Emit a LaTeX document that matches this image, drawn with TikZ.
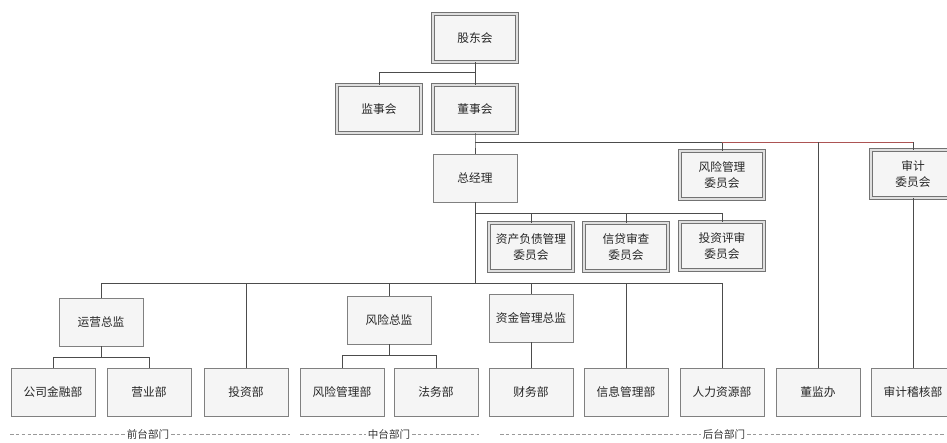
\documentclass[tikz,border=0pt]{standalone}
\usepackage{fontspec}
\setmainfont{Noto Sans CJK SC}
\begin{document}
\begin{tikzpicture}[x=0.3mm, y=-0.3mm,
		box/.style={rectangle, draw=black!50, fill=gray!8, line width=0.6pt, minimum width=25.2mm, minimum height=14.4mm, inner sep=1pt, align=center, text=black!85, font=\fontsize{10}{13}\selectfont},
		dbox/.style={box, draw=black!55, double=gray!25, double distance=1.4pt, line width=0.6pt},
		conn/.style={draw=black!70, line width=0.3mm},
		redconn/.style={draw=red!35!gray, line width=0.3mm},
		sep/.style={draw=gray!80, densely dashed, line width=0.2mm},
		part/.style={text=black!80, font=\fontsize{9}{9}\selectfont, inner sep=1.5pt}]
		\useasboundingbox (0,0) rectangle (947,443);

		% top
		\draw (475,38) node (gdh) [dbox] {股东会};
		\draw (379,109) node (jsh) [dbox] {监事会};
		\draw (475,109) node (dsh) [dbox] {董事会};

		\draw (475,178) node (zjl) [box] {总经理};
		\draw (722,175) node (fxwyh) [dbox] {风险管理\\委员会};
		\draw (913,174) node (sjwyh) [dbox] {审计\\委员会};

		% committees
		\draw (531,247) node (zcfz) [dbox] {资产负债管理\\委员会};
		\draw (626,247) node (xdsc) [dbox] {信贷审查\\委员会};
		\draw (722,246) node (tzps) [dbox] {投资评审\\委员会};

		% directors
		\draw (101,322) node (yyzj) [box] {运营总监};
		\draw (389,320) node (fxzj) [box] {风险总监};
		\draw (531,318) node (zjglzj) [box] {资金管理总监};

		% departments
		\draw (53,392) node (gsjr) [box] {公司金融部};
		\draw (149,392) node (yyb) [box] {营业部};
		\draw (246,392) node (tzb) [box] {投资部};
		\draw (342,392) node (fxglb) [box] {风险管理部};
		\draw (436,392) node (fwb) [box] {法务部};
		\draw (531,392) node (cwb) [box] {财务部};
		\draw (626,392) node (xxglb) [box] {信息管理部};
		\draw (722,392) node (rlzyb) [box] {人力资源部};
		\draw (818,392) node (djb) [box] {董监办};
		\draw (913,392) node (sjjhb) [box] {审计稽核部};

		% connectors
		\draw[conn] (gdh.south) -- ++(0,10) coordinate (k1) -| (jsh.north);
		\draw[conn] (k1) -- (dsh.north);

		\draw[conn] (dsh.south) -- ++(0,9) coordinate (k2) -- (zjl.north);
		\draw[conn] (k2) -| (fxwyh.north);
		\draw[redconn] (k2 -| fxwyh.north) -- (k2 -| sjwyh.north);
		\draw[conn] (k2 -| djb.north) -- (djb.north);
		\draw[conn] (k2 -| sjwyh.north) -- (sjwyh.north);
		\draw[conn] (sjwyh.south) -- (sjjhb.north);

		\draw[conn] (zjl.south) -- ++(0,11) coordinate (k3) -| (tzps.north);
		\draw[conn] (k3 -| zcfz.north) -- (zcfz.north);
		\draw[conn] (k3 -| xdsc.north) -- (xdsc.north);

		\draw[conn] (k3) -- ++(0,70) coordinate (k4) -| (rlzyb.north);
		\draw[conn] (k4) -| (yyzj.north);
		\foreach \n in {tzb, fxzj, zjglzj, xxglb}
			\draw[conn] (k4 -| \n.north) -- (\n.north);

		\draw[conn] (yyzj.south) -- ++(0,11) coordinate (k5) -| (gsjr.north);
		\draw[conn] (k5) -| (yyb.north);
		\draw[conn] (fxzj.south) -- ++(0,11) coordinate (k6) -| (fxglb.north);
		\draw[conn] (k6) -| (fwb.north);
		\draw[conn] (zjglzj.south) -- (cwb.north);

		% groups
		\draw (148,434) node (qt) [part] {前台部门};
		\draw (389,434) node (zt) [part] {中台部门};
		\draw (724,434) node (ht) [part] {后台部门};
		\coordinate (qt1) at (10,434);
		\coordinate (qt2) at (290,434);
		\coordinate (zt1) at (300,434);
		\coordinate (zt2) at (479,434);
		\coordinate (ht1) at (500,434);
		\coordinate (ht2) at (945,434);
		\draw[sep] (qt1) -- (qt.west);
		\draw[sep] (qt.east) -- (qt2);
		\draw[sep] (zt1) -- (zt.west);
		\draw[sep] (zt.east) -- (zt2);
		\draw[sep] (ht1) -- (ht.west);
		\draw[sep] (ht.east) -- (ht2);
	\end{tikzpicture}
\end{document}
